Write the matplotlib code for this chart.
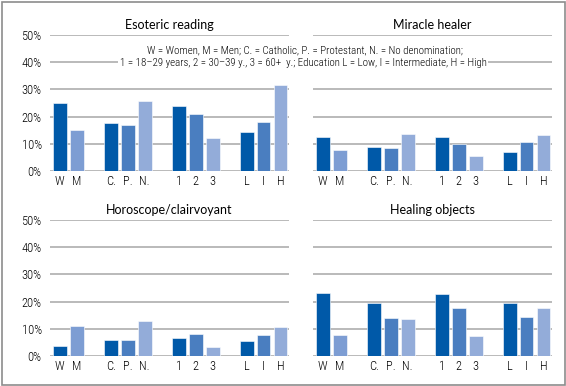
import matplotlib
matplotlib.use("Agg")
import matplotlib.pyplot as plt
from matplotlib.patches import Rectangle

# Data (percent)
labels = ["W", "M", "C.", "P.", "N.", "1", "2", "3", "L", "I", "H"]
xpos = [0, 1, 3, 4, 5, 7, 8, 9, 11, 12, 13]

titles = ["Esoteric reading", "Miracle healer", "Horoscope/clairvoyant", "Healing objects"]
esoteric = [24.9, 15.1, 17.8, 16.9, 25.9, 23.9, 21.0, 12.3, 14.2, 18.1, 31.6]
miracle = [12.6, 7.8, 8.8, 8.3, 13.5, 12.4, 9.8, 5.6, 6.9, 10.5, 13.1]
horoscope = [3.7, 11.1, 6.0, 6.0, 12.8, 6.6, 8.0, 3.4, 5.4, 7.6, 10.6]
healing = [23.2, 7.6, 19.4, 13.9, 13.7, 22.7, 17.7, 7.2, 19.6, 14.4, 17.6]

dark = "#0059a8"
mid = "#4a7ec0"
light = "#93acd9"
men = "#7d9dd3"
bar_colors = [dark, men, dark, mid, light, dark, mid, light, dark, mid, light]

cond = ["Roboto Condensed", "DejaVu Sans"]
title_font = ["Lato", "DejaVu Sans"]

fig = plt.figure(figsize=(5.66, 3.86), dpi=100)

W, H = 566.0, 386.0
# axes boxes in pixels: left, top(50%), right, bottom(0%)
boxes = [(50, 35, 289, 171), (313, 35, 552, 171),
         (50, 220, 289, 356), (313, 220, 552, 356)]
series = [esoteric, miracle, horoscope, healing]

for box, title, vals in zip(boxes, titles, series):
    l, t, r, b = box
    ax = fig.add_axes([l / W, (H - b) / H, (r - l) / W, (b - t) / H])
    ax.bar(xpos, vals, width=0.82, color=bar_colors, edgecolor="white",
           linewidth=0.4, zorder=3)
    ax.set_xlim(-0.58, 13.5)
    ax.set_ylim(0, 50)
    ax.set_yticks([0, 10, 20, 30, 40, 50])
    ax.yaxis.grid(True, color="#aeaeae", linewidth=1.2, zorder=0)
    ax.set_axisbelow(True)
    for s in ax.spines.values():
        s.set_visible(False)
    ax.tick_params(length=0)
    ax.set_xticks(xpos)
    ax.set_xticklabels(labels, family=cond, fontsize=9, weight=300)
    if l < 100:
        ax.set_yticklabels(["%d%%" % v for v in range(0, 60, 10)],
                           family=cond, fontsize=9, weight=300)
        ax.tick_params(axis="y", pad=6)
    else:
        ax.set_yticklabels([])
    ax.tick_params(axis="x", pad=3)
    ax.set_title(title, family=title_font, fontsize=9, pad=4)

note_box = dict(facecolor="white", edgecolor="none", pad=1.0)
fig.text(305 / W, 1 - 50 / H,
         "W = Women, M = Men; C. = Catholic, P. = Protestant, N. = No denomination;",
         family=cond, fontsize=7.8, weight=300, ha="center", va="center", bbox=note_box)
fig.text(303 / W, 1 - 63 / H,
         "1 = 18\u201329 years, 2 = 30\u201339 y., 3 = 60+  y.; Education L = Low, I = Intermediate, H = High",
         family=cond, fontsize=7.8, weight=300, ha="center", va="center", bbox=note_box)

fig.add_artist(Rectangle((1.5 / W, 1.5 / H), 1 - 3 / W, 1 - 3 / H,
                         transform=fig.transFigure, fill=False,
                         edgecolor="#8c8c8c", linewidth=1.2))

fig.savefig("out.png", dpi=100)
